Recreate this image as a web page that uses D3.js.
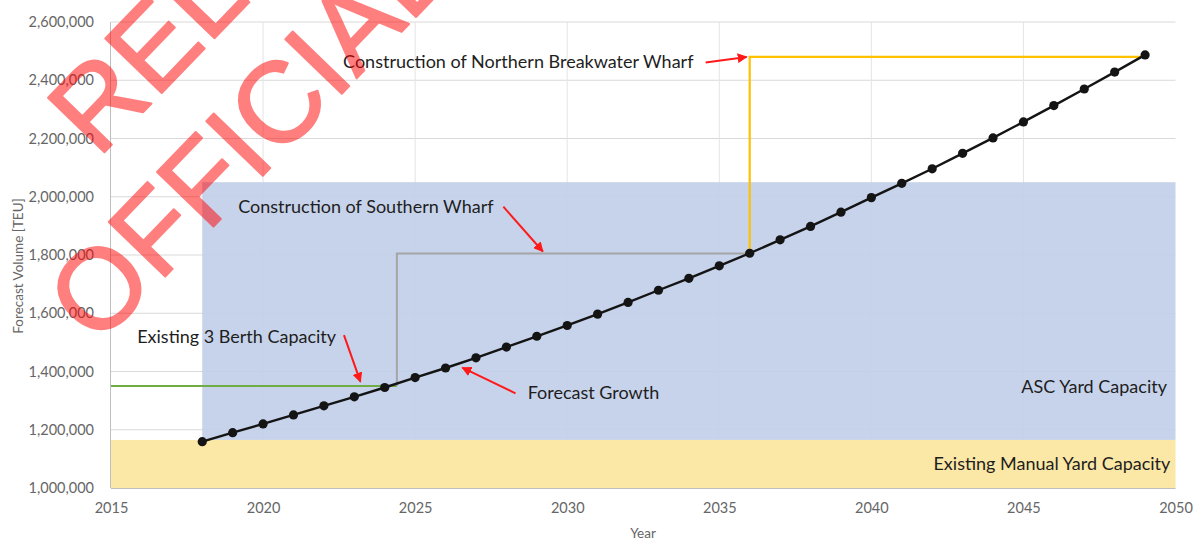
<!DOCTYPE html>
<html>
<head>
<meta charset="utf-8">
<script src="https://cdn.jsdelivr.net/npm/d3@7"></script>
<style>
  body { margin: 0; background: #ffffff; }
  svg { display: block; }
</style>
</head>
<body>
<svg id="chart" width="1198" height="541"></svg>
<script>
// ---- data ----
const forecastYears = d3.range(2018, 2050);
const forecastTEU = [
  1159000, 1190000, 1220000, 1251000, 1282000, 1313000, 1345000, 1379000,
  1412000, 1447000, 1484000, 1521000, 1558000, 1597000, 1637000, 1679000,
  1720000, 1763000, 1806000, 1852000, 1898000, 1947000, 1997000, 2046000,
  2096000, 2149000, 2202000, 2257000, 2313000, 2370000, 2428000, 2487000
];

// berth capacity steps: existing 3 berths, Southern Wharf, Northern Breakwater Wharf
const stepYears = [2015, 2024.4, 2036, 2049];
const stepCapacity = [1350000, 1805000, 2480000];

// yard capacity bands
const manualYardYears = [2015, 2050];
const manualYardTEU = [1000000, 1165000];
const ascYardYears = [2018, 2050];
const ascYardTEU = [1165000, 2050000];

const xTicks = [2015, 2020, 2025, 2030, 2035, 2040, 2045, 2050];
const yTicks = [1000000, 1200000, 1400000, 1600000, 1800000, 2000000, 2200000, 2400000, 2600000];

// annotation texts with anchor and arrow (tail -> head) in data units
const notes = [
  { text: "Construction of Northern Breakwater Wharf", at: [2022.63, 2462000], anchor: "start",
    arrow: [[2034.55, 2461000], [2035.9, 2480000]] },
  { text: "Construction of Southern Wharf", at: [2019.18, 1965000], anchor: "start",
    arrow: [[2027.9, 1966000], [2029.2, 1812000]] },
  { text: "Existing 3 Berth Capacity", at: [2015.86, 1518000], anchor: "start",
    arrow: [[2022.66, 1525000], [2023.2, 1365000]] },
  { text: "Forecast Growth", at: [2028.7, 1326000], anchor: "start",
    arrow: [[2028.3, 1325000], [2026.55, 1413000]] },
  { text: "ASC Yard Capacity", at: [2049.72, 1348000], anchor: "end", arrow: null },
  { text: "Existing Manual Yard Capacity", at: [2049.83, 1085000], anchor: "end", arrow: null }
];

// ---- layout ----
const svg = d3.select("#chart");
const x = d3.scaleLinear().domain([2015, 2050]).range([111, 1175.5]);
const y = d3.scaleLinear().domain([1000000, 2600000]).range([488, 22]);

const labelFont = "Lato, 'Open Sans', sans-serif";

// arrowhead marker
svg.append("defs").append("marker")
  .attr("id", "arrowhead")
  .attr("viewBox", "0 0 10 10")
  .attr("refX", 9).attr("refY", 5)
  .attr("markerWidth", 5).attr("markerHeight", 5)
  .attr("orient", "auto")
  .append("path")
  .attr("d", "M0,0 L10,5 L0,10 Z")
  .attr("fill", "#ff1a1a");

// gridlines
const grid = svg.append("g");
grid.selectAll("line.h").data(yTicks).join("line")
  .attr("x1", x(2015)).attr("x2", x(2050))
  .attr("y1", d => y(d)).attr("y2", d => y(d))
  .attr("stroke", "#d9d9d9").attr("stroke-width", 1);
grid.selectAll("line.v").data(xTicks.slice(1, -1)).join("line")
  .attr("x1", d => x(d)).attr("x2", d => x(d))
  .attr("y1", y(2600000)).attr("y2", y(1000000))
  .attr("stroke", "#e4e4e4").attr("stroke-width", 1);

// yard capacity bands
svg.append("rect")
  .attr("x", x(ascYardYears[0])).attr("width", x(ascYardYears[1]) - x(ascYardYears[0]))
  .attr("y", y(ascYardTEU[1])).attr("height", y(ascYardTEU[0]) - y(ascYardTEU[1]))
  .attr("fill", "rgb(194,207,232)").attr("fill-opacity", 0.92);
svg.append("rect")
  .attr("x", x(manualYardYears[0])).attr("width", x(manualYardYears[1]) - x(manualYardYears[0]))
  .attr("y", y(manualYardTEU[1])).attr("height", y(manualYardTEU[0]) - y(manualYardTEU[1]))
  .attr("fill", "#fbe7a6");

// axis lines
svg.append("line").attr("x1", x(2015) - 0.5).attr("x2", x(2015) - 0.5)
  .attr("y1", y(2600000)).attr("y2", y(1000000)).attr("stroke", "#bfbfbf");
svg.append("line").attr("x1", x(2015)).attr("x2", x(2050))
  .attr("y1", y(1000000) + 0.5).attr("y2", y(1000000) + 0.5).attr("stroke", "#bfbfbf");

// axes (labels only)
const yAxis = svg.append("g").attr("transform", `translate(${x(2015) - 14},0)`)
  .call(d3.axisLeft(y).tickValues(yTicks).tickFormat(d3.format(",")).tickSize(0));
const xAxis = svg.append("g").attr("transform", `translate(0,${y(1000000) + 12})`)
  .call(d3.axisBottom(x).tickValues(xTicks).tickFormat(d3.format("d")).tickSize(0));
[yAxis, xAxis].forEach(a => {
  a.select(".domain").remove();
  a.selectAll("text").attr("fill", "#666666")
    .style("font-family", labelFont).style("font-size", "14.5px");
});

svg.append("text").text("Year")
  .attr("x", 643).attr("y", 538)
  .attr("text-anchor", "middle").attr("fill", "#666666")
  .style("font-family", labelFont).style("font-size", "13.5px");
svg.append("text").text("Forecast Volume [TEU]")
  .attr("transform", "translate(23,266) rotate(-90)")
  .attr("text-anchor", "middle").attr("fill", "#666666")
  .style("font-family", labelFont).style("font-size", "13.5px");

// capacity step lines
const stepLine = d3.line().x(d => x(d[0])).y(d => y(d[1]));
svg.append("path")
  .attr("d", stepLine([[stepYears[0], stepCapacity[0]], [stepYears[1], stepCapacity[0]]]))
  .attr("fill", "none").attr("stroke", "#70ad47").attr("stroke-width", 2);
svg.append("path")
  .attr("d", stepLine([[stepYears[1], stepCapacity[0]], [stepYears[1], stepCapacity[1]], [stepYears[2], stepCapacity[1]]]))
  .attr("fill", "none").attr("stroke", "#a5a5a5").attr("stroke-width", 2);
svg.append("path")
  .attr("d", stepLine([[stepYears[2], stepCapacity[1]], [stepYears[2], stepCapacity[2]], [stepYears[3], stepCapacity[2]]]))
  .attr("fill", "none").attr("stroke", "#ffc000").attr("stroke-width", 2.2);

// forecast growth line with markers
const forecast = forecastYears.map((yr, i) => [yr, forecastTEU[i]]);
svg.append("path")
  .attr("d", stepLine(forecast))
  .attr("fill", "none").attr("stroke", "#141414").attr("stroke-width", 2.4);
svg.append("g").selectAll("circle").data(forecast).join("circle")
  .attr("cx", d => x(d[0])).attr("cy", d => y(d[1])).attr("r", 4.6)
  .attr("fill", "#141414");

// annotations
const noteG = svg.append("g");
notes.forEach(n => {
  noteG.append("text").text(n.text)
    .attr("x", x(n.at[0])).attr("y", y(n.at[1]))
    .attr("dy", "0.35em")
    .attr("text-anchor", n.anchor)
    .attr("fill", "#1e1e1e")
    .style("font-family", labelFont).style("font-size", "18px");
  if (n.arrow) {
    noteG.append("line")
      .attr("x1", x(n.arrow[0][0])).attr("y1", y(n.arrow[0][1]))
      .attr("x2", x(n.arrow[1][0])).attr("y2", y(n.arrow[1][1]))
      .attr("stroke", "#ff1a1a").attr("stroke-width", 2)
      .attr("marker-end", "url(#arrowhead)");
  }
});

// release watermark (semi-transparent red stamp across the top-left)
const stamp = svg.append("g")
  .attr("transform", "translate(98,159) rotate(-46)")
  .attr("opacity", 0.5)
  .attr("fill", "#ff0000").attr("stroke", "#ff0000").attr("stroke-width", 2)
  .attr("stroke-linejoin", "round")
  .style("font-family", "'Liberation Sans', Arial, sans-serif")
  .style("font-size", "114px");
stamp.append("text").text("RELEASED").attr("x", 0).attr("y", 0);
stamp.append("text").text("OFFICIAL").attr("x", -136).attr("y", 130);
</script>
</body>
</html>
